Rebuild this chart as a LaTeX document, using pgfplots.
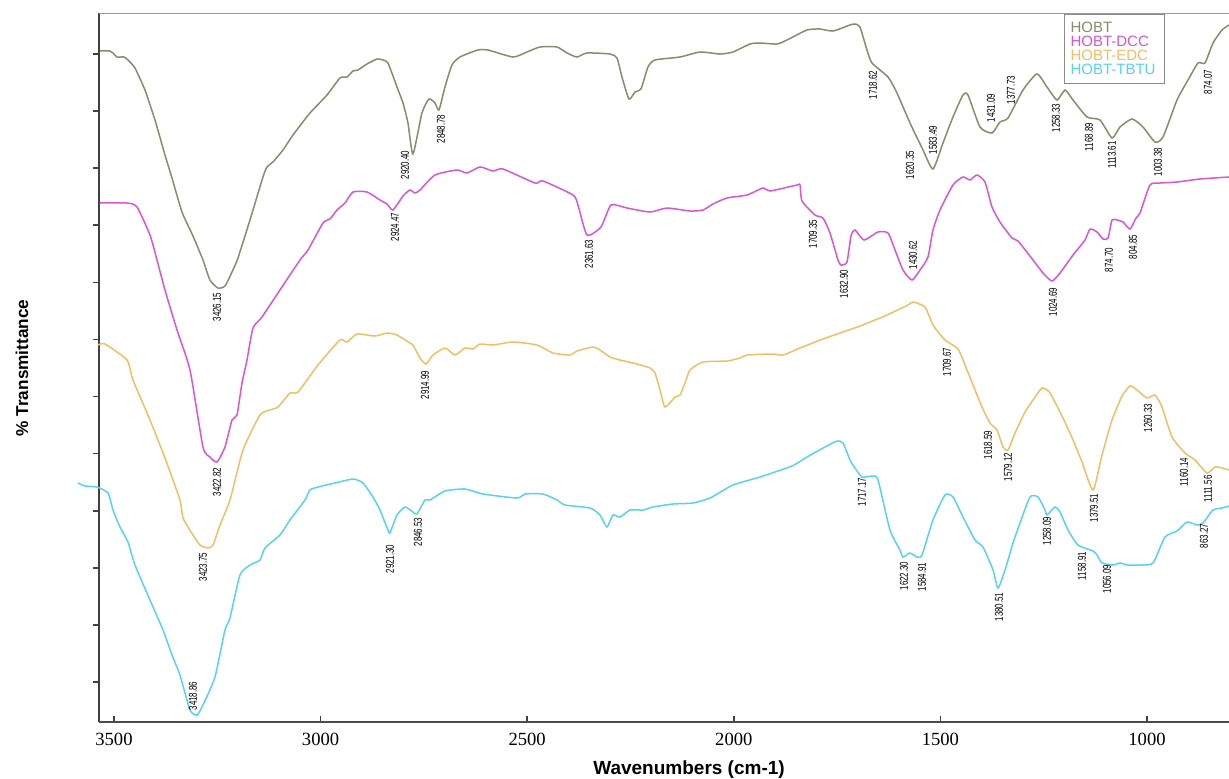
\documentclass[border=0pt]{standalone}
\usepackage{fontspec}
\setmainfont{Liberation Serif}
\newfontfamily\arial{Liberation Sans}
\usepackage{graphicx}
\usepackage{pgfplots}
\pgfplotsset{compat=1.18}
\definecolor{chobt}{RGB}{138,138,108}
\definecolor{cdcc}{RGB}{216,84,216}
\definecolor{cedc}{RGB}{240,190,100}
\definecolor{ctbtu}{RGB}{88,210,240}
\newcommand{\pk}[3]{\node[rotate=90,inner sep=0pt,font=\arial\fontsize{5.7}{6}\selectfont] at (axis cs:#1,#2) {\scalebox{0.7}[1]{#3}};}
\begin{document}
\begin{tikzpicture}
\useasboundingbox (-49.35pt,-28.15pt) rectangle (565.15pt,360.85pt);
\begin{axis}[
  at={(0pt,0pt)}, anchor=south west,
  scale only axis, width=565.15pt, height=354.2pt,
  x dir=reverse, xmin=801.6, xmax=3537.0,
  ymin=56.3, ymax=764.7,
  axis x line*=bottom, axis y line*=left,
  x axis line style={draw=black!70, line width=1pt},
  y axis line style={draw=black!75, line width=1.1pt},
  xtick={1000,1500,2000,2500,3000,3500},
  ytick={96,153.1,...,725}, yticklabels={},
  tick align=inside, major tick length=3pt,
  tick style={black!75, line width=0.8pt},
  every major y tick/.append style={xshift=-3pt},
  xticklabel style={font=\fontsize{9.3}{10}\selectfont, yshift=-2pt},
  /pgf/number format/assume math mode=true,
  /pgf/number format/set thousands separator={},
  xlabel={Wavenumbers (cm-1)},
  xlabel style={at={(axis description cs:0.5223,-0.0682)}, anchor=center, font=\arial\bfseries\fontsize{9.5}{11}\selectfont},
  ylabel={\% Transmittance},
  ylabel style={at={(axis description cs:-0.0679,0.4993)}, anchor=center, font=\arial\bfseries\fontsize{8.6}{10}\selectfont},
  clip=false,
  every axis plot/.append style={line width=0.75pt, smooth, tension=0.35},
]
% HOBT
\addplot[chobt] coordinates {
(3533.9,727)(3509.7,727)(3502.4,725)(3492.7,721)(3475.8,721)(3466.1,718)(3449.2,710)(3425.0,688)(3400.8,658)(3376.6,623)(3359.6,600)(3335.4,566)(3308.8,542)(3284.6,518)(3267.7,498)(3248.3,490)(3231.4,492)(3214.4,506)(3199.9,520)(3170.9,558)(3139.4,601)(3129.7,611)(3115.2,616)(3091.0,628)(3066.8,643)(3025.7,665)(2984.5,683)(2953.1,700)(2936.1,701)(2921.6,707)(2909.5,708)(2887.7,714)(2863.5,719)(2849.0,718)(2836.9,715)(2815.1,691)(2800.6,675)(2788.5,655)(2776.4,624)(2754.7,665)(2737.7,679)(2723.2,675)(2713.5,668)(2699.0,691)(2682.0,713)(2662.7,721)(2619.1,728)(2594.9,728)(2534.4,721)(2500.5,726)(2469.0,731)(2427.9,731)(2403.7,725)(2379.5,721)(2355.3,725)(2299.6,724)(2282.7,720)(2270.6,701)(2253.7,679)(2239.1,686)(2224.6,689)(2207.7,711)(2190.7,718)(2130.2,721)(2081.8,726)(2033.4,724)(2002.0,726)(1960.8,734)(1936.6,735)(1895.5,734)(1871.3,738)(1822.9,748)(1791.4,749)(1760.0,747)(1718.8,753)(1706.7,754)(1694.6,751)(1677.7,728)(1665.6,715)(1626.8,701)(1605.1,685)(1573.6,655)(1542.1,628)(1518.0,609)(1493.8,635)(1469.6,661)(1445.4,683)(1433.3,683)(1404.2,651)(1375.2,645)(1355.8,656)(1336.4,660)(1300.1,688)(1266.3,704)(1242.1,691)(1217.9,678)(1198.5,688)(1179.1,678)(1145.2,661)(1113.8,658)(1084.7,640)(1065.4,651)(1036.3,659)(1009.8,651)(980.7,636)(961.3,641)(927.4,678)(900.8,698)(876.6,715)(859.7,715)(840.3,735)(818.5,748)(801.6,753)
};
% HOBT-DCC
\addplot[cdcc] coordinates {
(3533.9,575)(3468.5,575)(3444.3,571)(3412.9,543)(3395.9,518)(3376.6,488)(3347.5,448)(3316.1,408)(3284.6,331)(3267.7,321)(3250.7,316)(3231.4,331)(3214.4,358)(3202.3,363)(3190.2,395)(3178.1,418)(3163.6,450)(3141.8,461)(3098.3,488)(3049.9,518)(3030.5,528)(2994.2,555)(2977.3,559)(2960.3,568)(2941.0,575)(2921.6,586)(2887.7,586)(2856.3,578)(2839.3,574)(2824.8,568)(2800.6,582)(2783.7,588)(2771.6,585)(2759.5,588)(2723.2,603)(2669.9,608)(2645.7,605)(2614.3,611)(2582.8,607)(2558.6,609)(2481.2,595)(2461.8,597)(2389.2,583)(2377.1,573)(2355.3,543)(2321.4,551)(2297.2,573)(2258.5,570)(2202.8,566)(2161.7,570)(2106.0,567)(2074.6,568)(2050.4,574)(2016.5,580)(1968.1,583)(1929.4,590)(1912.4,587)(1847.1,593)(1839.8,593)(1835.0,577)(1803.5,563)(1784.2,560)(1767.2,545)(1747.9,518)(1740.6,513)(1726.1,516)(1716.4,542)(1706.7,548)(1684.9,538)(1651.0,546)(1626.8,545)(1609.9,528)(1590.6,508)(1568.8,498)(1549.4,508)(1530.1,521)(1518.0,548)(1501.0,568)(1469.6,593)(1445.4,601)(1428.4,598)(1411.5,603)(1392.1,596)(1375.2,571)(1355.8,556)(1326.7,540)(1312.2,537)(1275.9,518)(1251.7,505)(1230.0,497)(1210.6,505)(1179.1,523)(1150.1,538)(1138.0,549)(1121.0,546)(1106.5,539)(1094.4,540)(1084.7,558)(1072.6,558)(1058.1,556)(1041.2,549)(1026.7,560)(1017.0,565)(992.8,593)(968.6,595)(927.4,596)(871.8,599)(801.6,601)
};
% HOBT-EDC
\addplot[cedc] coordinates {
(3538.7,433)(3521.8,434)(3468.5,418)(3454.0,398)(3412.9,358)(3376.6,320)(3340.3,278)(3333.0,260)(3308.8,243)(3291.9,233)(3272.5,230)(3260.4,233)(3243.5,253)(3219.3,278)(3187.8,328)(3146.7,363)(3122.5,368)(3103.1,371)(3074.1,385)(3054.7,386)(3006.3,413)(2953.1,438)(2936.1,436)(2911.9,444)(2868.4,442)(2839.3,445)(2815.1,443)(2783.7,435)(2776.4,433)(2759.5,420)(2745.0,414)(2728.0,423)(2699.0,430)(2674.8,423)(2650.6,430)(2631.2,429)(2614.3,434)(2582.8,433)(2534.4,436)(2476.3,433)(2437.6,425)(2396.4,423)(2379.5,427)(2340.8,431)(2323.8,428)(2299.6,421)(2275.4,418)(2234.3,414)(2202.8,410)(2190.7,405)(2178.6,388)(2166.5,371)(2142.3,381)(2130.2,383)(2118.1,395)(2106.0,408)(2074.6,416)(2016.5,417)(1985.0,420)(1968.1,423)(1905.2,424)(1881.0,423)(1839.8,430)(1784.2,439)(1743.0,445)(1694.6,452)(1629.3,463)(1578.5,473)(1566.3,476)(1537.3,471)(1518.0,453)(1489.0,438)(1457.5,429)(1435.7,408)(1399.4,371)(1380.0,355)(1363.1,348)(1348.5,331)(1336.4,328)(1319.5,345)(1295.3,366)(1275.9,378)(1254.2,390)(1234.8,385)(1203.4,360)(1179.1,338)(1157.3,316)(1130.7,288)(1108.9,323)(1084.7,358)(1060.5,382)(1041.2,392)(1024.3,388)(1000.1,380)(980.7,383)(963.8,371)(939.5,341)(908.1,325)(883.8,318)(854.8,305)(835.5,311)(818.5,310)(801.6,308)
};
% HOBT-TBTU
\addplot[ctbtu] coordinates {
(3587.1,295)(3570.2,292)(3541.2,291)(3514.5,285)(3502.4,268)(3485.5,251)(3466.1,236)(3449.2,213)(3412.9,178)(3381.4,148)(3359.6,123)(3340.3,103)(3316.1,68)(3299.1,63)(3284.6,73)(3255.6,101)(3231.4,148)(3219.3,160)(3195.1,203)(3170.9,213)(3146.7,218)(3134.6,230)(3098.3,243)(3074.1,258)(3037.8,278)(3025.7,288)(3006.3,291)(2965.2,295)(2921.6,299)(2897.4,295)(2873.2,281)(2856.3,268)(2836.9,248)(2832.1,245)(2815.1,263)(2795.8,271)(2776.4,266)(2766.7,264)(2747.4,278)(2735.3,278)(2699.0,287)(2650.6,289)(2607.0,284)(2524.7,280)(2505.5,284)(2461.8,284)(2427.9,278)(2408.5,273)(2348.0,270)(2323.8,263)(2306.9,251)(2292.4,263)(2275.4,261)(2251.2,268)(2219.8,268)(2195.6,271)(2147.2,274)(2098.8,275)(2057.6,280)(2002.0,293)(1936.6,301)(1859.2,312)(1822.9,321)(1779.3,331)(1750.3,337)(1735.8,335)(1718.8,318)(1706.7,310)(1689.8,301)(1663.2,302)(1651.0,298)(1622.0,248)(1597.8,228)(1590.6,221)(1573.6,225)(1556.7,221)(1544.6,223)(1518.0,258)(1489.0,283)(1469.6,281)(1445.4,261)(1416.3,238)(1397.0,231)(1372.7,208)(1360.6,190)(1343.7,208)(1324.3,235)(1307.4,255)(1283.2,281)(1263.8,281)(1246.9,268)(1242.1,263)(1222.7,271)(1210.6,266)(1191.2,248)(1167.0,233)(1130.7,227)(1121.0,223)(1108.9,215)(1082.3,213)(1065.4,215)(1048.4,213)(1017.0,213)(985.6,215)(956.5,241)(927.4,247)(903.2,256)(879.0,253)(864.5,255)(840.3,268)(818.5,270)(801.6,272)
};
% top border
\draw[black!40, line width=0.6pt] (rel axis cs:0,1) -- (rel axis cs:1,1);
% peak labels HOBT
\pk{3250.7}{471}{3426.15}
\pk{2795.8}{613}{2920.40}
\pk{2708.6}{649}{2848.78}
\pk{1663.2}{693}{1718.62}
\pk{1573.6}{613}{1620.35}
\pk{1518.0}{638}{1583.49}
\pk{1377.6}{670}{1431.09}
\pk{1329.2}{688}{1377.73}
\pk{1220.3}{660}{1258.33}
\pk{1140.4}{641}{1168.89}
\pk{1084.7}{623}{1113.61}
\pk{973.4}{616}{1003.38}
\pk{852.4}{696}{874.07}
% DCC
\pk{2820.0}{551}{2924.47}
\pk{2350.5}{524}{2361.63}
\pk{1808.4}{544}{1709.35}
\pk{1733.3}{494}{1632.90}
\pk{1566.3}{523}{1430.62}
\pk{1227.5}{476}{1024.69}
\pk{1092.0}{518}{874.70}
\pk{1033.9}{531}{804.85}
% EDC
\pk{3250.7}{296}{3422.82}
\pk{2747.4}{393}{2914.99}
\pk{1484.1}{416}{1709.67}
\pk{1384.9}{333}{1618.59}
\pk{1336.4}{311}{1579.12}
\pk{1128.3}{270}{1379.51}
\pk{997.6}{360}{1260.33}
\pk{910.5}{306}{1160.14}
\pk{852.4}{289}{1111.56}
% TBTU
\pk{3284.6}{211}{3423.75}
\pk{3308.8}{82}{3418.86}
\pk{2832.1}{219}{2921.30}
\pk{2764.3}{246}{2846.53}
\pk{1689.8}{286}{1717.17}
\pk{1588.1}{202}{1622.30}
\pk{1544.6}{201}{1584.91}
\pk{1358.2}{171}{1380.51}
\pk{1242.1}{247}{1258.09}
\pk{1157.3}{212}{1158.91}
\pk{1096.8}{199}{1056.09}
\pk{862.1}{242}{863.27}
% legend
\node[draw=black!45, line width=0.5pt, anchor=north west, inner xsep=3pt, inner ysep=4pt, text width=44pt, align=left, font=\arial\fontsize{7.5}{7}\selectfont] at (axis cs:1200.9,764) {\textcolor{chobt}{HOBT}\\\textcolor{cdcc}{HOBT-DCC}\\\textcolor{cedc}{HOBT-EDC}\\\textcolor{ctbtu}{HOBT-TBTU}};
\end{axis}
\end{tikzpicture}
\end{document}
